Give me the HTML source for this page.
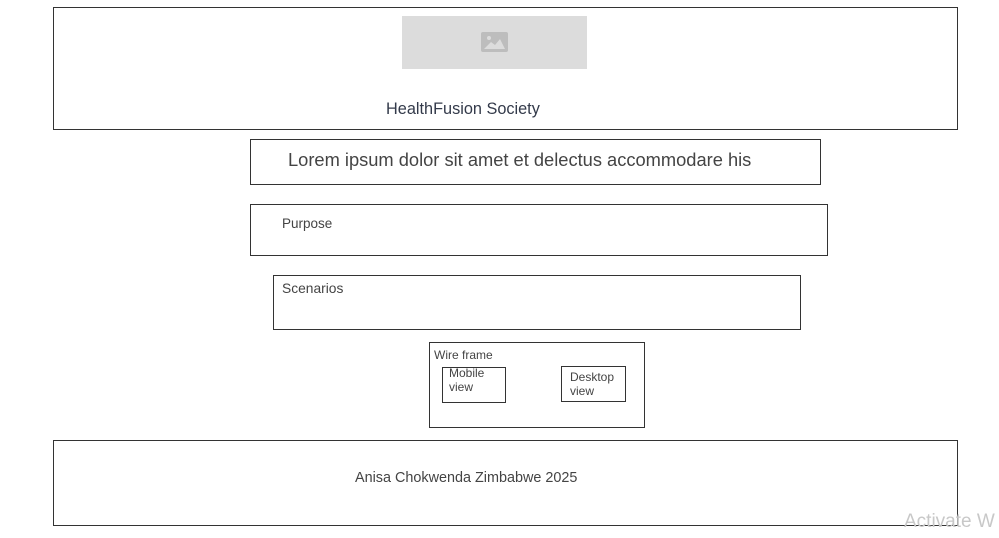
<!DOCTYPE html>
<html><head><style>
body{margin:0;width:999px;height:538px;background:#fff;position:relative;overflow:hidden;font-family:"Liberation Sans",sans-serif;color:#444}
.b{position:absolute;border:1px solid #333;box-sizing:border-box}
.t{position:absolute;white-space:nowrap}
</style></head><body>
<div class="b" style="left:53px;top:7px;width:905px;height:123px"></div>
<div style="position:absolute;left:402px;top:16px;width:185px;height:53px;background:#dcdcdc"></div>
<svg style="position:absolute;left:481px;top:32px" width="27" height="20"><rect width="27" height="20" rx="2" fill="#bdbdbd"/><circle cx="8" cy="6" r="2" fill="#dcdcdc"/><path d="M3 17 L10 10 L14 13 L19 7 L24 17Z" fill="#dcdcdc"/></svg>
<div class="t" style="left:386px;top:100px;font-size:16.3px;color:#333a4a">HealthFusion Society</div>
<div class="b" style="left:250px;top:139px;width:571px;height:46px"></div>
<div class="t" style="left:288px;top:149px;font-size:18.3px">Lorem ipsum dolor sit amet et delectus accommodare his</div>
<div class="b" style="left:250px;top:204px;width:578px;height:52px"></div>
<div class="t" style="left:282px;top:216px;font-size:13.5px">Purpose</div>
<div class="b" style="left:273px;top:275px;width:528px;height:55px"></div>
<div class="t" style="left:282px;top:281px;font-size:13.8px">Scenarios</div>
<div class="b" style="left:429px;top:342px;width:216px;height:86px"></div>
<div class="t" style="left:434px;top:348px;font-size:12px">Wire frame</div>
<div class="b" style="left:442px;top:367px;width:64px;height:36px"></div>
<div class="t" style="left:449px;top:366px;font-size:12px;line-height:14px">Mobile<br>view</div>
<div class="b" style="left:561px;top:366px;width:65px;height:36px"></div>
<div class="t" style="left:570px;top:370px;font-size:12px;line-height:14px">Desktop<br>view</div>
<div class="b" style="left:53px;top:440px;width:905px;height:86px"></div>
<div class="t" style="left:355px;top:470px;font-size:14.4px">Anisa Chokwenda Zimbabwe 2025</div>
<div class="t" style="left:904px;top:511px;font-size:19px;color:#c8c8c8">Activate W</div>
</body></html>
